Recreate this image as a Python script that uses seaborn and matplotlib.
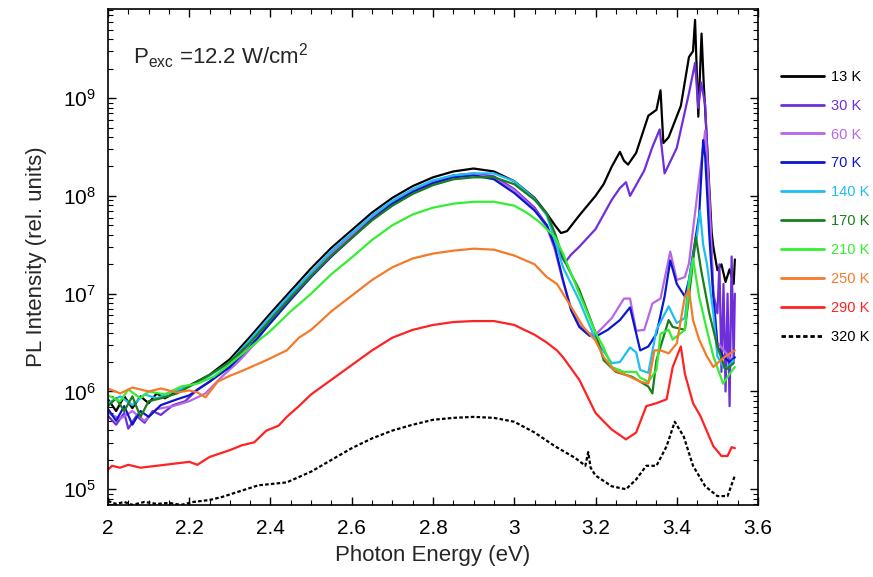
import numpy as np
import pandas as pd
import matplotlib
matplotlib.use("Agg")
import matplotlib.pyplot as plt
from matplotlib.ticker import MultipleLocator, FuncFormatter, LogLocator
from matplotlib.lines import Line2D
import seaborn as sns

# ---------------- data (photon energy in eV, log10 of PL intensity) ----------------
labels = ["13 K", "30 K", "60 K", "70 K", "140 K", "170 K", "210 K", "250 K", "290 K", "320 K"]
colors = ["#000000", "#6F2EDB", "#B866E8", "#0B17CC", "#1EBDF2",
          "#1A7F1A", "#33EE33", "#F47A2A", "#FF2222", "#000000"]

E_13K = [2.00, 2.02, 2.04, 2.06, 2.08, 2.10, 2.12, 2.14, 2.17, 2.20, 2.25, 2.30, 2.35, 2.40, 2.45,
         2.50, 2.55, 2.60, 2.65, 2.70, 2.75, 2.80, 2.85, 2.90, 2.95, 3.00, 3.05, 3.08, 3.10, 3.115,
         3.13, 3.16, 3.18, 3.20, 3.22, 3.24, 3.26, 3.27, 3.28, 3.30, 3.33, 3.35, 3.36, 3.367, 3.38,
         3.41, 3.43, 3.44, 3.445, 3.453, 3.461, 3.466, 3.473, 3.486, 3.49, 3.50, 3.51, 3.52, 3.53,
         3.54, 3.543]
L_13K = [5.92, 5.80, 5.95, 5.83, 5.95, 5.88, 5.98, 5.93, 6.00, 6.06, 6.17, 6.33, 6.56, 6.80, 7.03,
         7.26, 7.47, 7.65, 7.83, 7.98, 8.10, 8.19, 8.25, 8.28, 8.25, 8.15, 7.98, 7.82, 7.70, 7.62,
         7.64, 7.80, 7.90, 8.00, 8.12, 8.30, 8.45, 8.36, 8.32, 8.44, 8.82, 8.88, 9.08, 8.54, 8.60,
         8.92, 9.42, 9.48, 9.80, 8.81, 9.66, 9.18, 8.64, 7.62, 7.48, 7.24, 7.30, 7.12, 7.25,
         7.10, 7.35]

E_30K = [2.00, 2.02, 2.04, 2.05, 2.07, 2.09, 2.11, 2.13, 2.16, 2.19, 2.22, 2.25, 2.30, 2.35, 2.40,
         2.45, 2.50, 2.55, 2.60, 2.65, 2.70, 2.75, 2.80, 2.85, 2.90, 2.95, 3.00, 3.05, 3.08, 3.10,
         3.125, 3.14, 3.16, 3.20, 3.24, 3.26, 3.275, 3.285, 3.32, 3.34, 3.358, 3.37, 3.40, 3.43, 3.445,
         3.453, 3.46, 3.47, 3.48, 3.49, 3.50, 3.505, 3.51, 3.515, 3.52, 3.525, 3.53, 3.535, 3.54, 3.543]
L_30K = [5.75, 5.66, 5.78, 5.62, 5.75, 5.68, 5.80, 5.76, 5.86, 5.90, 6.02, 6.10, 6.27, 6.50, 6.74,
         6.98, 7.20, 7.42, 7.60, 7.79, 7.94, 8.06, 8.15, 8.21, 8.23, 8.20, 8.07, 7.88, 7.70, 7.50,
         7.32, 7.40, 7.48, 7.66, 7.96, 8.08, 8.14, 8.00, 8.26, 8.50, 8.68, 8.23, 8.49, 9.05, 9.36,
         8.90, 9.16, 8.93, 7.99, 7.00, 6.80, 7.30, 6.20, 7.10, 6.00, 7.00, 5.85, 7.38, 6.30, 7.00]

E_60K = [2.00, 2.03, 2.06, 2.09, 2.12, 2.16, 2.20, 2.24, 2.28, 2.32, 2.36, 2.40, 2.45, 2.50, 2.55,
         2.60, 2.65, 2.70, 2.75, 2.80, 2.85, 2.90, 2.95, 3.00, 3.05, 3.08, 3.10, 3.12, 3.14, 3.16,
         3.18, 3.20, 3.24, 3.27, 3.285, 3.30, 3.32, 3.34, 3.36, 3.384, 3.40, 3.42, 3.43, 3.45, 3.47,
         3.48, 3.49, 3.50, 3.52, 3.54]
L_60K = [5.78, 5.72, 5.80, 5.70, 5.82, 5.85, 5.90, 5.98, 6.15, 6.30, 6.48, 6.72, 6.96, 7.19, 7.41,
         7.59, 7.78, 7.93, 8.05, 8.14, 8.20, 8.22, 8.18, 8.06, 7.86, 7.68, 7.45, 7.12, 6.85, 6.68,
         6.60, 6.58, 6.75, 6.95, 6.95, 6.62, 6.63, 6.90, 6.95, 7.43, 7.14, 7.17, 7.31, 8.00, 8.67,
         8.00, 7.00, 6.50, 6.40, 6.30]

E_70K = [2.00, 2.02, 2.04, 2.06, 2.08, 2.10, 2.13, 2.17, 2.20, 2.25, 2.30, 2.35, 2.40, 2.45, 2.50,
         2.55, 2.60, 2.65, 2.70, 2.75, 2.80, 2.85, 2.90, 2.95, 3.00, 3.05, 3.08, 3.10, 3.12, 3.14,
         3.16, 3.185, 3.20, 3.23, 3.26, 3.285, 3.31, 3.33, 3.35, 3.37, 3.384, 3.40, 3.42, 3.43, 3.455,
         3.465, 3.47, 3.48, 3.49, 3.50, 3.514, 3.53, 3.543]
L_70K = [5.82, 5.70, 5.85, 5.66, 5.80, 5.74, 5.86, 5.92, 5.96, 6.10, 6.25, 6.46, 6.70, 6.94, 7.17,
         7.38, 7.57, 7.76, 7.92, 8.04, 8.13, 8.19, 8.21, 8.17, 8.03, 7.85, 7.70, 7.48, 7.14, 6.83,
         6.66, 6.57, 6.56, 6.63, 6.73, 6.86, 6.42, 6.46, 6.59, 6.97, 7.34, 7.10, 6.97, 7.14, 7.80,
         8.57, 8.40, 7.60, 6.97, 6.46, 6.36, 6.30, 6.35]

E_140K = [2.00, 2.03, 2.06, 2.09, 2.12, 2.16, 2.20, 2.25, 2.30, 2.35, 2.40, 2.45, 2.50, 2.55, 2.60,
          2.65, 2.70, 2.75, 2.80, 2.85, 2.90, 2.95, 3.00, 3.05, 3.08, 3.10, 3.12, 3.14, 3.16, 3.20,
          3.24, 3.26, 3.285, 3.30, 3.31, 3.33, 3.35, 3.38, 3.40, 3.42, 3.43, 3.45, 3.457, 3.465, 3.474,
          3.49, 3.50, 3.52, 3.54]
L_140K = [5.88, 5.95, 5.86, 5.97, 5.93, 6.00, 6.05, 6.16, 6.30, 6.53, 6.77, 7.00, 7.22, 7.44, 7.62,
          7.80, 7.95, 8.07, 8.16, 8.21, 8.23, 8.23, 8.15, 7.97, 7.80, 7.55, 7.27, 7.10, 6.93, 6.53,
          6.29, 6.30, 6.45, 6.40, 6.22, 6.19, 6.63, 6.87, 6.70, 6.75, 7.14, 7.60, 7.85, 7.50, 7.31,
          6.80, 6.36, 6.22, 6.32]

E_170K = [2.00, 2.02, 2.04, 2.06, 2.08, 2.10, 2.13, 2.17, 2.20, 2.25, 2.30, 2.35, 2.40, 2.45, 2.50,
          2.55, 2.60, 2.65, 2.70, 2.75, 2.80, 2.85, 2.90, 2.95, 3.00, 3.05, 3.08, 3.10, 3.12, 3.14,
          3.16, 3.20, 3.22, 3.25, 3.29, 3.31, 3.33, 3.34, 3.35, 3.38, 3.39, 3.42, 3.43, 3.447, 3.46,
          3.48, 3.50, 3.52, 3.54]
L_170K = [5.85, 5.93, 5.80, 5.95, 5.74, 5.90, 5.93, 5.98, 6.05, 6.17, 6.30, 6.50, 6.73, 6.96, 7.18,
          7.39, 7.57, 7.75, 7.90, 8.02, 8.11, 8.17, 8.19, 8.19, 8.12, 7.96, 7.82, 7.62, 7.37, 7.20,
          7.04, 6.60, 6.32, 6.20, 6.15, 6.10, 6.05, 5.98, 6.32, 6.73, 6.66, 6.63, 6.97, 7.58, 7.24,
          6.80, 6.46, 6.22, 6.29]

E_210K = [2.00, 2.03, 2.05, 2.08, 2.10, 2.14, 2.18, 2.22, 2.26, 2.30, 2.35, 2.40, 2.45, 2.50, 2.55,
          2.60, 2.65, 2.70, 2.75, 2.80, 2.85, 2.90, 2.95, 3.00, 3.03, 3.06, 3.10, 3.12, 3.16, 3.20,
          3.22, 3.24, 3.27, 3.30, 3.31, 3.33, 3.35, 3.36, 3.38, 3.39, 3.42, 3.43, 3.44, 3.455, 3.474,
          3.49, 3.514, 3.53, 3.543]
L_210K = [5.96, 5.90, 6.02, 5.93, 6.00, 5.97, 6.05, 6.08, 6.15, 6.28, 6.45, 6.62, 6.82, 7.00, 7.20,
          7.37, 7.55, 7.70, 7.81, 7.88, 7.92, 7.94, 7.94, 7.90, 7.83, 7.74, 7.58, 7.41, 7.00, 6.60,
          6.45, 6.25, 6.20, 6.20, 6.14, 6.10, 6.22, 6.59, 6.63, 6.53, 6.63, 7.07, 7.36, 6.97, 6.63,
          6.36, 6.08, 6.18, 6.25]

E_250K = [2.00, 2.03, 2.06, 2.10, 2.13, 2.17, 2.20, 2.22, 2.24, 2.27, 2.30, 2.33, 2.39, 2.44, 2.47,
          2.50, 2.55, 2.60, 2.65, 2.70, 2.75, 2.80, 2.85, 2.90, 2.95, 3.00, 3.05, 3.08, 3.105, 3.12,
          3.145, 3.17, 3.20, 3.22, 3.245, 3.285, 3.31, 3.33, 3.345, 3.36, 3.38, 3.40, 3.42, 3.43, 3.44,
          3.455, 3.474, 3.49, 3.50, 3.52, 3.543]
L_250K = [6.03, 5.98, 6.04, 6.00, 6.03, 5.99, 6.01, 5.99, 5.94, 6.10, 6.16, 6.21, 6.32, 6.42, 6.55,
          6.63, 6.82, 6.98, 7.14, 7.27, 7.36, 7.41, 7.44, 7.46, 7.45, 7.39, 7.30, 7.17, 7.10, 7.00,
          6.83, 6.66, 6.52, 6.35, 6.22, 6.15, 6.10, 6.08, 6.42, 6.42, 6.39, 6.49, 6.97, 7.04, 6.73,
          6.53, 6.36, 6.25, 6.29, 6.36, 6.42]

E_290K = [2.00, 2.01, 2.03, 2.05, 2.08, 2.12, 2.16, 2.20, 2.22, 2.25, 2.30, 2.33, 2.36, 2.39, 2.42,
          2.44, 2.47, 2.50, 2.55, 2.60, 2.65, 2.70, 2.75, 2.80, 2.85, 2.90, 2.95, 3.00, 3.05, 3.08,
          3.105, 3.12, 3.16, 3.20, 3.24, 3.275, 3.30, 3.325, 3.35, 3.375, 3.39, 3.41, 3.42, 3.44, 3.458,
          3.49, 3.51, 3.525, 3.535, 3.543]
L_290K = [5.20, 5.24, 5.22, 5.25, 5.22, 5.24, 5.26, 5.28, 5.25, 5.33, 5.40, 5.45, 5.48, 5.60, 5.65,
          5.74, 5.85, 5.97, 6.12, 6.27, 6.42, 6.55, 6.63, 6.68, 6.71, 6.72, 6.72, 6.68, 6.58, 6.50,
          6.42, 6.35, 6.12, 5.78, 5.61, 5.51, 5.58, 5.85, 5.88, 5.92, 6.25, 6.46, 6.18, 5.88, 5.75,
          5.44, 5.34, 5.34, 5.43, 5.42]

E_320K = [2.00, 2.02, 2.04, 2.06, 2.09, 2.12, 2.15, 2.18, 2.21, 2.25, 2.28, 2.31, 2.37, 2.44, 2.50,
          2.55, 2.60, 2.65, 2.70, 2.75, 2.80, 2.85, 2.90, 2.95, 3.00, 3.05, 3.10, 3.15, 3.175, 3.182,
          3.188, 3.20, 3.24, 3.275, 3.30, 3.325, 3.35, 3.375, 3.395, 3.417, 3.44, 3.47, 3.50, 3.525, 3.543]
L_320K = [4.88, 4.85, 4.87, 4.84, 4.87, 4.85, 4.86, 4.84, 4.87, 4.89, 4.92, 4.96, 5.04, 5.07, 5.18,
          5.30, 5.42, 5.52, 5.60, 5.66, 5.71, 5.73, 5.74, 5.73, 5.69, 5.58, 5.44, 5.32, 5.24, 5.38,
          5.22, 5.14, 5.03, 5.00, 5.10, 5.24, 5.24, 5.44, 5.69, 5.54, 5.24, 5.03, 4.93, 4.93, 5.14]

x_ticks = [2.0, 2.2, 2.4, 2.6, 2.8, 3.0, 3.2, 3.4, 3.6]

energies = [E_13K, E_30K, E_60K, E_70K, E_140K, E_170K, E_210K, E_250K, E_290K, E_320K]
log_int = [L_13K, L_30K, L_60K, L_70K, L_140K, L_170K, L_210K, L_250K, L_290K, L_320K]

frames = []
for lab, e, l in zip(labels, energies, log_int):
    frames.append(pd.DataFrame({"E": e, "I": np.power(10.0, np.array(l)), "T": lab}))
df = pd.concat(frames, ignore_index=True)

# ---------------- style ----------------
sns.set_theme(style="ticks")
plt.rcParams["font.family"] = ["Liberation Sans", "DejaVu Sans"]
plt.rcParams["mathtext.default"] = "regular"
plt.rcParams["axes.linewidth"] = 1.2

fig = plt.figure(figsize=(8.73, 5.77), dpi=100)
ax = fig.add_axes([0.1237, 0.1248, 0.7446, 0.8591])

for lab, col in zip(labels, colors):
    sub = df[df["T"] == lab]
    ls = (0, (1.6, 1.0)) if lab == "320 K" else "-"
    sns.lineplot(data=sub, x="E", y="I", ax=ax, color=col, lw=1.6,
                 linestyle=ls, estimator=None, sort=False, legend=False)

ax.set_yscale("log")
ax.set_xlim(2.0, 3.6)
ax.set_ylim(6.9e4, 8.1e9)

ax.set_xticks(x_ticks)
ax.xaxis.set_major_formatter(FuncFormatter(lambda v, p: f"{v:g}"))
ax.xaxis.set_minor_locator(MultipleLocator(0.05))
ax.yaxis.set_major_locator(LogLocator(base=10, numticks=12))
ax.yaxis.set_minor_locator(LogLocator(base=10, subs=np.arange(2, 10), numticks=12))

ax.tick_params(which="both", direction="in", top=True, right=True, colors="black")
ax.tick_params(which="major", length=6, width=1.0, labelsize=15)
ax.tick_params(which="minor", length=3.5, width=0.8)
ax.tick_params(axis="x", which="major", pad=10)
ax.tick_params(axis="y", which="major", pad=8.5)
for s in ax.spines.values():
    s.set_color("black")
    s.set_linewidth(1.2)

ax.set_xlabel("Photon Energy (eV)", fontsize=16, labelpad=5)
ax.set_ylabel("PL Intensity (rel. units)", fontsize=16, labelpad=12)

ax.text(0.038, 0.905, r"P$_{\mathregular{exc}}$ =12.2 W/cm$^{\mathregular{2}}$",
        transform=ax.transAxes, fontsize=16, va="center", ha="left")

handles = [Line2D([0], [0], color=c, lw=2,
                  linestyle=((0, (1.6, 1.0)) if l == "320 K" else "-")) for l, c in zip(labels, colors)]
leg = ax.legend(handles, labels, loc="upper left", bbox_to_anchor=(1.035, 0.878),
                frameon=False, fontsize=10.5, handlelength=2.95, handletextpad=0.48,
                labelspacing=1.02, borderaxespad=0, borderpad=0)
for txt, c in zip(leg.get_texts(), colors):
    txt.set_color(c)

fig.savefig("out.png", dpi=100)
